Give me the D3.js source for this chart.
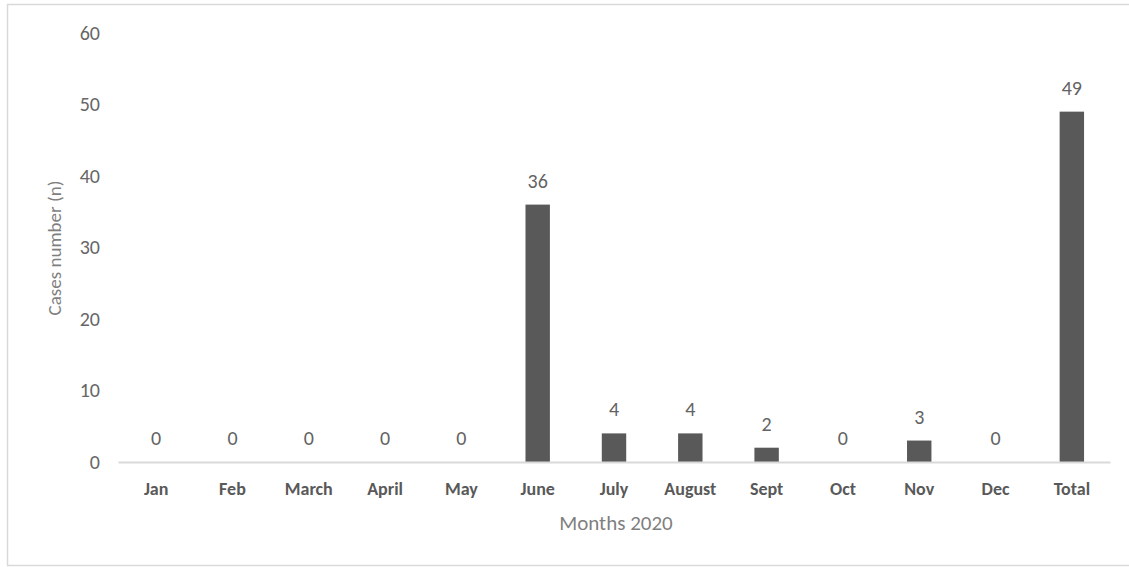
<!DOCTYPE html>
<html>
<head>
<meta charset="utf-8">
<script src="https://cdn.jsdelivr.net/npm/d3@7"></script>
<style>
  html, body { margin: 0; padding: 0; background: #fff; }
  svg { display: block; font-family: Carlito, Lato, "Open Sans", sans-serif; }
</style>
</head>
<body>
<svg id="chart" width="1129" height="567"></svg>
<script>
// Monthly case counts for 2020, plus the yearly total
const categories = ["Jan", "Feb", "March", "April", "May", "June", "July", "August", "Sept", "Oct", "Nov", "Dec", "Total"];
const cases = [0, 0, 0, 0, 0, 36, 4, 4, 2, 0, 3, 0, 49];
const yTicks = [0, 10, 20, 30, 40, 50, 60];

const svg = d3.select("#chart");
const W = 1129, H = 567;
const margin = { left: 118, right: 19, top: 33, bottom: 105 };

// chart frame
svg.append("rect")
  .attr("x", 7.5).attr("y", 4.5)
  .attr("width", W + 10).attr("height", 561)
  .attr("fill", "#fff").attr("stroke", "#d9d9d9").attr("stroke-width", 1.5);

const x = d3.scaleBand()
  .domain(categories)
  .range([margin.left, W - margin.right])
  .paddingInner(0.68).paddingOuter(0.34);

const y = d3.scaleLinear()
  .domain([0, 60])
  .range([H - margin.bottom, margin.top]);

// y axis labels (no axis line, no ticks)
const yAxis = svg.append("g")
  .attr("transform", `translate(${margin.left},0)`)
  .call(d3.axisLeft(y).tickValues(yTicks).tickSize(0).tickPadding(18));
yAxis.select(".domain").remove();
yAxis.selectAll("text")
  .attr("fill", "#666666")
  .style("font-size", "20px")
  .style("font-family", "Carlito, Lato, sans-serif");

// bars
svg.append("g").selectAll("rect")
  .data(cases)
  .join("rect")
  .attr("x", (d, i) => x(categories[i]))
  .attr("width", x.bandwidth())
  .attr("y", d => y(d))
  .attr("height", d => y(0) - y(d))
  .attr("fill", "#595959");

// value labels
svg.append("g").selectAll("text")
  .data(cases)
  .join("text")
  .attr("x", (d, i) => x(categories[i]) + x.bandwidth() / 2)
  .attr("y", d => y(d) - 17)
  .attr("text-anchor", "middle")
  .attr("fill", "#636363")
  .style("font-size", "20px")
  .text(d => d);

// x axis baseline and category labels
const xAxis = svg.append("g")
  .attr("transform", `translate(0,${y(0)})`)
  .call(d3.axisBottom(x).tickSize(0).tickPadding(20));
xAxis.select(".domain")
  .attr("stroke", "#d9d9d9")
  .attr("stroke-width", 2);
xAxis.selectAll("text")
  .attr("fill", "#595959")
  .style("font-size", "18px")
  .style("font-weight", "bold")
  .style("font-family", "Carlito, Lato, sans-serif");

// axis titles
svg.append("text")
  .attr("x", 616).attr("y", 530)
  .attr("text-anchor", "middle")
  .attr("fill", "#7f7f7f")
  .style("font-size", "21px")
  .text("Months 2020");

svg.append("text")
  .attr("transform", "translate(61,248) rotate(-90)")
  .attr("text-anchor", "middle")
  .attr("fill", "#7f7f7f")
  .style("font-size", "19px")
  .text("Cases number (n)");
</script>
</body>
</html>
